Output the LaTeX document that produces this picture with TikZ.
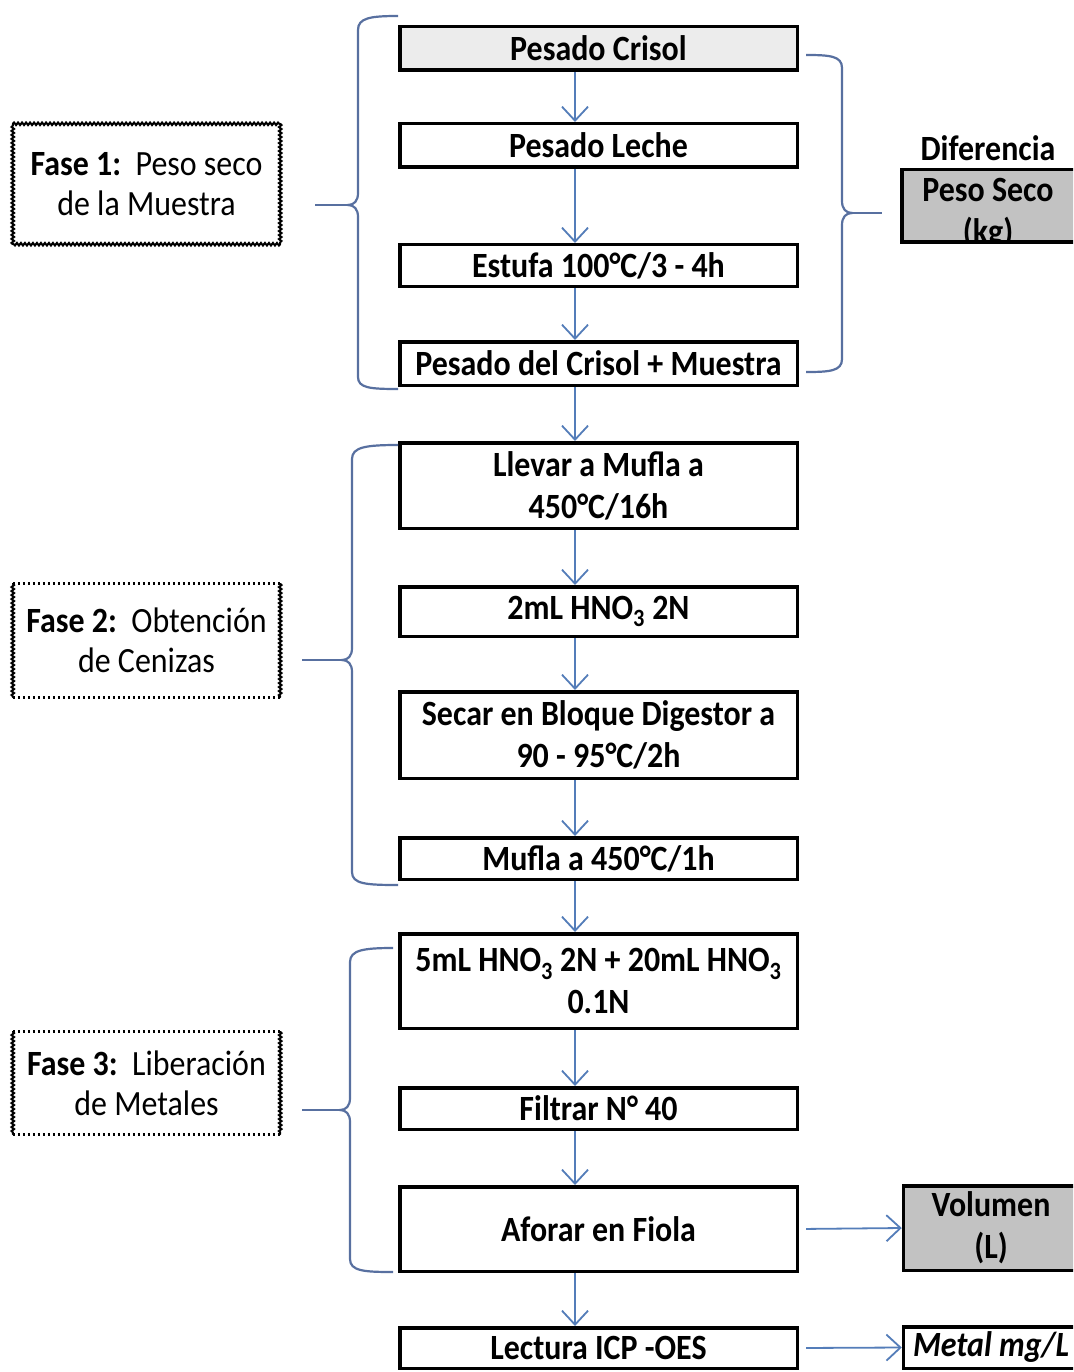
\documentclass[tikz,border=0pt]{standalone}
\usepackage{fontspec}
\setmainfont{Carlito}[FakeStretch=0.9]
\usetikzlibrary{arrows.meta,decorations.pathmorphing}
\definecolor{arrowblue}{RGB}{84,125,185}
\definecolor{braceblue}{RGB}{88,112,160}
\definecolor{lightfill}{RGB}{236,236,236}
\definecolor{grayfill}{RGB}{194,194,194}
\begin{document}
\begin{tikzpicture}[x=1pt,y=-1pt,
  stepbox/.style={draw=black, line width=3.5pt, minimum width=397.5pt, inner sep=0pt,
    font=\bfseries\fontsize{35.5}{42}\selectfont, align=center},
  outbox/.style={line width=3.5pt, minimum width=175pt, inner sep=0pt, anchor=west,
    font=\bfseries\fontsize{35.5}{42}\selectfont, align=center},
  phase/.style={inner sep=0pt, font=\fontsize{35.5}{40}\selectfont, align=center},
  wavy/.style={line width=2pt, line cap=round, decorate, decoration={snake, amplitude=1.3pt, segment length=4pt}},
  dotline/.style={line width=2.8pt, dash pattern=on 2.5pt off 2.5pt},
  arr/.style={draw=arrowblue, line width=1.8pt, -{Straight Barb[length=14pt,width=26pt]}},
  brace/.style={draw=braceblue, line width=2.2pt}]
\clip (0,0) rectangle (1073,1372);
\fill[white] (0,0) rectangle (1073,1372);

% main steps
\node[stepbox, fill=lightfill, minimum height=43.5pt] (b1) at (598.5,48.5) {Pesado Crisol};
\node[stepbox, minimum height=43.5pt] (b2) at (598.5,145.5) {Pesado Leche};
\node[stepbox, minimum height=41.5pt] (b3) at (598.5,265.5) {Estufa 100°C/3 - 4h};
\node[stepbox, minimum height=43.5pt] (b4) at (598.5,363.5) {Pesado del Crisol + Muestra};
\node[stepbox, minimum height=85.5pt] (b5) at (598.5,485.5) {Llevar a Mufla a\\450°C/16h};
\node[stepbox, minimum height=49.5pt] (b6) at (598.5,611.5) {2mL HNO\textsubscript{3} 2N};
\node[stepbox, minimum height=86.5pt] (b7) at (598.5,735) {Secar en Bloque Digestor a\\90 - 95°C/2h};
\node[stepbox, minimum height=41.5pt] (b8) at (598.5,858.5) {Mufla a 450°C/1h};
\node[stepbox, minimum height=94.5pt] (b9) at (598.5,981) {5mL HNO\textsubscript{3} 2N + 20mL HNO\textsubscript{3}\\0.1N};
\node[stepbox, minimum height=41.5pt] (b10) at (598.5,1108.5) {Filtrar N° 40};
\node[stepbox, minimum height=84.5pt] (b11) at (598.5,1229) {Aforar en Fiola};
\node[stepbox, minimum height=40.5pt] (b12) at (598.5,1348) {Lectura ICP -OES};

% vertical arrows
\coordinate (ax) at (575,0);
\foreach \a/\b in {b1/b2,b2/b3,b3/b4,b4/b5,b5/b6,b6/b7,b7/b8,b8/b9,b9/b10,b10/b11,b11/b12}
  \draw[arr] (\a.south -| ax) -- (\b.north -| ax);

% output boxes
\node[font=\bfseries\fontsize{35.5}{42}\selectfont] (dif) at (988,148) {Diferencia};
\node[outbox, fill=grayfill, minimum height=69pt] (ps) at (901.75,206) {};
\begin{scope}
  \clip (ps.north west) rectangle (ps.south east);
  \node[font=\bfseries\fontsize{35.5}{42}\selectfont] (pst) at (988,190) {Peso Seco};
  \node[font=\bfseries\fontsize{35.5}{42}\selectfont] (kg) at (988,233) {(kg)};
\end{scope}
\draw[line width=3.5pt] (ps.north west) rectangle (ps.south east);

\node[outbox, draw=black, fill=grayfill, minimum height=84.5pt] (vol) at (901.75,1228) {Volumen\\(L)};
\node[outbox, draw=black, minimum height=41.5pt, font=\bfseries\itshape\fontsize{35.5}{42}\selectfont] (met) at (901.75,1347.5) {Metal mg/L};

\draw[arr, shorten <=7pt] (b11.east) -- (vol.west);
\draw[arr, shorten <=7pt] (b12.east) -- (met.west);

% phase labels
\node[phase, minimum width=267pt, minimum height=120pt] (p1) at (146.5,184) {\textbf{Fase 1:}\ \ Peso seco\\de la Muestra};
\draw[wavy] (p1.north west) -- (p1.north east);
\draw[wavy] (p1.north east) -- (p1.south east);
\draw[wavy] (p1.south east) -- (p1.south west);
\draw[wavy] (p1.south west) -- (p1.north west);

\node[phase, minimum width=267pt, minimum height=113pt] (p2) at (146.5,640.5) {\textbf{Fase 2:}\ \ Obtención\\de Cenizas};
\draw[dotline] (p2.north west) -- (p2.north east);
\draw[dotline] (p2.south west) -- (p2.south east);
\draw[wavy] (p2.north east) -- (p2.south east);
\draw[wavy] (p2.north west) -- (p2.south west);

\node[phase, minimum width=267pt, minimum height=102pt] (p3) at (146.5,1083) {\textbf{Fase 3:}\ \ Liberación\\de Metales};
\draw[dotline] (p3.north west) -- (p3.north east);
\draw[dotline] (p3.south west) -- (p3.south east);
\draw[wavy] (p3.north east) -- (p3.south east);
\draw[wavy] (p3.north west) -- (p3.south west);

% braces
\draw[brace] (398,16) .. controls (370,16) and (358,18) .. (358,30) -- (358,193)
  .. controls (358,201) and (354,205) .. (348,205)
  .. controls (354,205) and (358,209) .. (358,217) -- (358,377)
  .. controls (358,388) and (370,389) .. (398,389);
\draw[brace] (348,205) -- (315,205);

\draw[brace] (398,445) .. controls (366,445) and (352,447) .. (352,459) -- (352,648)
  .. controls (352,656) and (348,660) .. (342,660)
  .. controls (348,660) and (352,664) .. (352,672) -- (352,872)
  .. controls (352,884) and (366,885) .. (398,885);
\draw[brace] (342,660) -- (302,660);

\draw[brace] (393,948) .. controls (364,948) and (350,950) .. (350,962) -- (350,1098)
  .. controls (350,1106) and (346,1110) .. (340,1110)
  .. controls (346,1110) and (350,1114) .. (350,1122) -- (350,1259)
  .. controls (350,1271) and (364,1272) .. (393,1272);
\draw[brace] (340,1110) -- (302,1110);

\draw[brace] (806,55) .. controls (830,55) and (842,56) .. (842,68) -- (842,201)
  .. controls (842,209) and (846,213) .. (852,213)
  .. controls (846,213) and (842,217) .. (842,225) -- (842,359)
  .. controls (842,371) and (830,372) .. (806,372);
\draw[brace] (852,213) -- (882,213);
\end{tikzpicture}
\end{document}
